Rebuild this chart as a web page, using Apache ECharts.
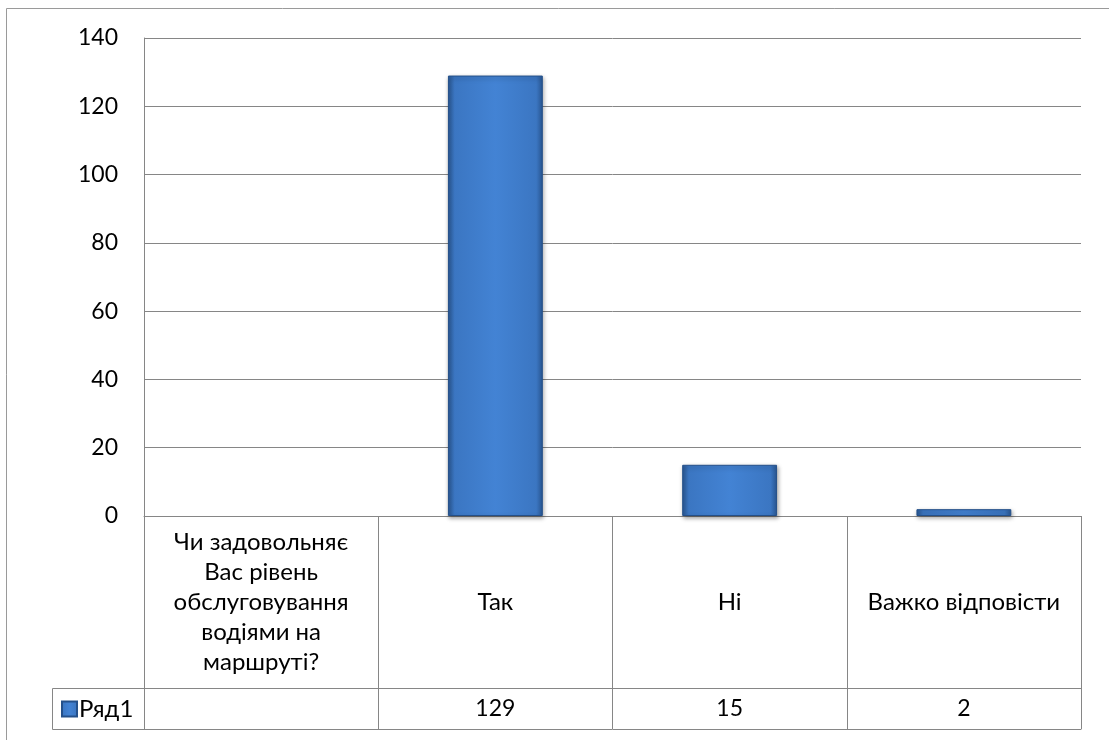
<!DOCTYPE html>
<html>
<head>
<meta charset="utf-8">
<script src="https://cdn.jsdelivr.net/npm/echarts@6/dist/echarts.min.js"></script>
<style>
  html, body { margin: 0; padding: 0; background: #fff; }
  #chart { width: 1109px; height: 740px; }
</style>
</head>
<body>
<div id="chart"></div>
<script>
// Survey answers: categories of the data table and the single series "Ряд1"
const categories = [
  'Чи задовольняє\nВас рівень\nобслуговування\nводіями на\nмаршруті?',
  'Так',
  'Ні',
  'Важко відповісти'
];
const seriesName = 'Ряд1';
const values = [null, 129, 15, 2];
const yTicks = { min: 0, max: 140, step: 20 };

// layout of the plot area and the data table under it
const FONT = 'Lato, "Noto Sans", sans-serif';
const TEXT_SIZE = 24;
const NUM_SIZE = 23;
const LINE = '#868686';
const plot = { left: 144, right: 1081, top: 38, bottom: 516 };
const catRowH = 172;   // height of the category row of the table
const valRowH = 41;    // height of the series row of the table
const keyCellLeft = 52;

const barFill = {
  type: 'linear', x: 0, y: 0, x2: 1, y2: 0,
  colorStops: [
    { offset: 0, color: '#2a5894' },
    { offset: 0.07, color: '#3b76c2' },
    { offset: 0.5, color: '#4383d4' },
    { offset: 0.93, color: '#3b76c2' },
    { offset: 1, color: '#2a5894' }
  ]
};

const chart = echarts.init(document.getElementById('chart'), null, { renderer: 'canvas' });

const axisLine = { show: true, lineStyle: { color: LINE, width: 1 } };

chart.setOption({
  animation: false,
  backgroundColor: '#ffffff',
  textStyle: { fontFamily: FONT },
  grid: {
    left: plot.left,
    right: 1109 - plot.right,
    top: plot.top,
    bottom: 740 - plot.bottom,
    containLabel: false
  },
  legend: {
    data: [seriesName],
    left: keyCellLeft + 9,
    top: plot.bottom + catRowH + 9,
    icon: 'rect',
    itemWidth: 15,
    itemHeight: 15,
    itemGap: 4,
    padding: 0,
    selectedMode: false,
    textStyle: { fontFamily: FONT, fontSize: TEXT_SIZE, color: '#000', padding: [0, 0, 0, -3] }
  },
  xAxis: [
    {
      // category row of the table
      type: 'category',
      data: categories,
      position: 'bottom',
      boundaryGap: true,
      axisLine: axisLine,
      axisTick: { show: true, interval: 0, length: catRowH, lineStyle: { color: LINE, width: 1 } },
      axisLabel: {
        interval: 0,
        margin: catRowH / 2,
        verticalAlign: 'middle',
        align: 'center',
        fontFamily: FONT,
        fontSize: TEXT_SIZE,
        lineHeight: 30,
        color: '#000'
      },
      splitLine: { show: false }
    },
    {
      // series row of the table: values of "Ряд1"
      type: 'category',
      data: values.map(v => (v === null ? '' : String(v))),
      position: 'bottom',
      offset: catRowH,
      boundaryGap: true,
      axisLine: axisLine,
      axisTick: { show: true, interval: 0, length: valRowH, lineStyle: { color: LINE, width: 1 } },
      axisLabel: {
        interval: 0,
        margin: valRowH / 2,
        verticalAlign: 'middle',
        fontFamily: FONT,
        fontSize: NUM_SIZE,
        color: '#000'
      }
    },
    {
      // bottom edge of the table
      type: 'category',
      data: categories,
      position: 'bottom',
      offset: catRowH + valRowH,
      axisLine: axisLine,
      axisTick: { show: false },
      axisLabel: { show: false }
    }
  ],
  yAxis: {
    type: 'value',
    min: yTicks.min,
    max: yTicks.max,
    interval: yTicks.step,
    axisLine: axisLine,
    axisTick: { show: false },
    axisLabel: { margin: 26, fontFamily: FONT, fontSize: NUM_SIZE, color: '#000' },
    splitLine: { show: true, lineStyle: { color: LINE, width: 1 } }
  },
  series: [
    {
      name: seriesName,
      type: 'bar',
      xAxisIndex: 0,
      data: values,
      barWidth: '40.5%',
      itemStyle: {
        color: barFill,
        borderColor: '#24508a',
        borderWidth: 1,
        shadowColor: 'rgba(0,0,0,0.35)',
        shadowBlur: 4,
        shadowOffsetX: 1,
        shadowOffsetY: 2
      }
    }
  ],
  graphic: [
    // outer frame of the chart area
    {
      type: 'rect',
      shape: { x: 6.5, y: 8.5, width: 1120, height: 760 },
      style: { fill: 'none', stroke: '#9a9a9a', lineWidth: 1 },
      silent: true
    },
    // legend-key cell at the left of the series row
    {
      type: 'rect',
      shape: {
        x: keyCellLeft + 0.5,
        y: plot.bottom + catRowH + 0.5,
        width: plot.left - keyCellLeft,
        height: valRowH
      },
      style: { fill: 'none', stroke: LINE, lineWidth: 1 },
      silent: true
    }
  ]
});
</script>
</body>
</html>
